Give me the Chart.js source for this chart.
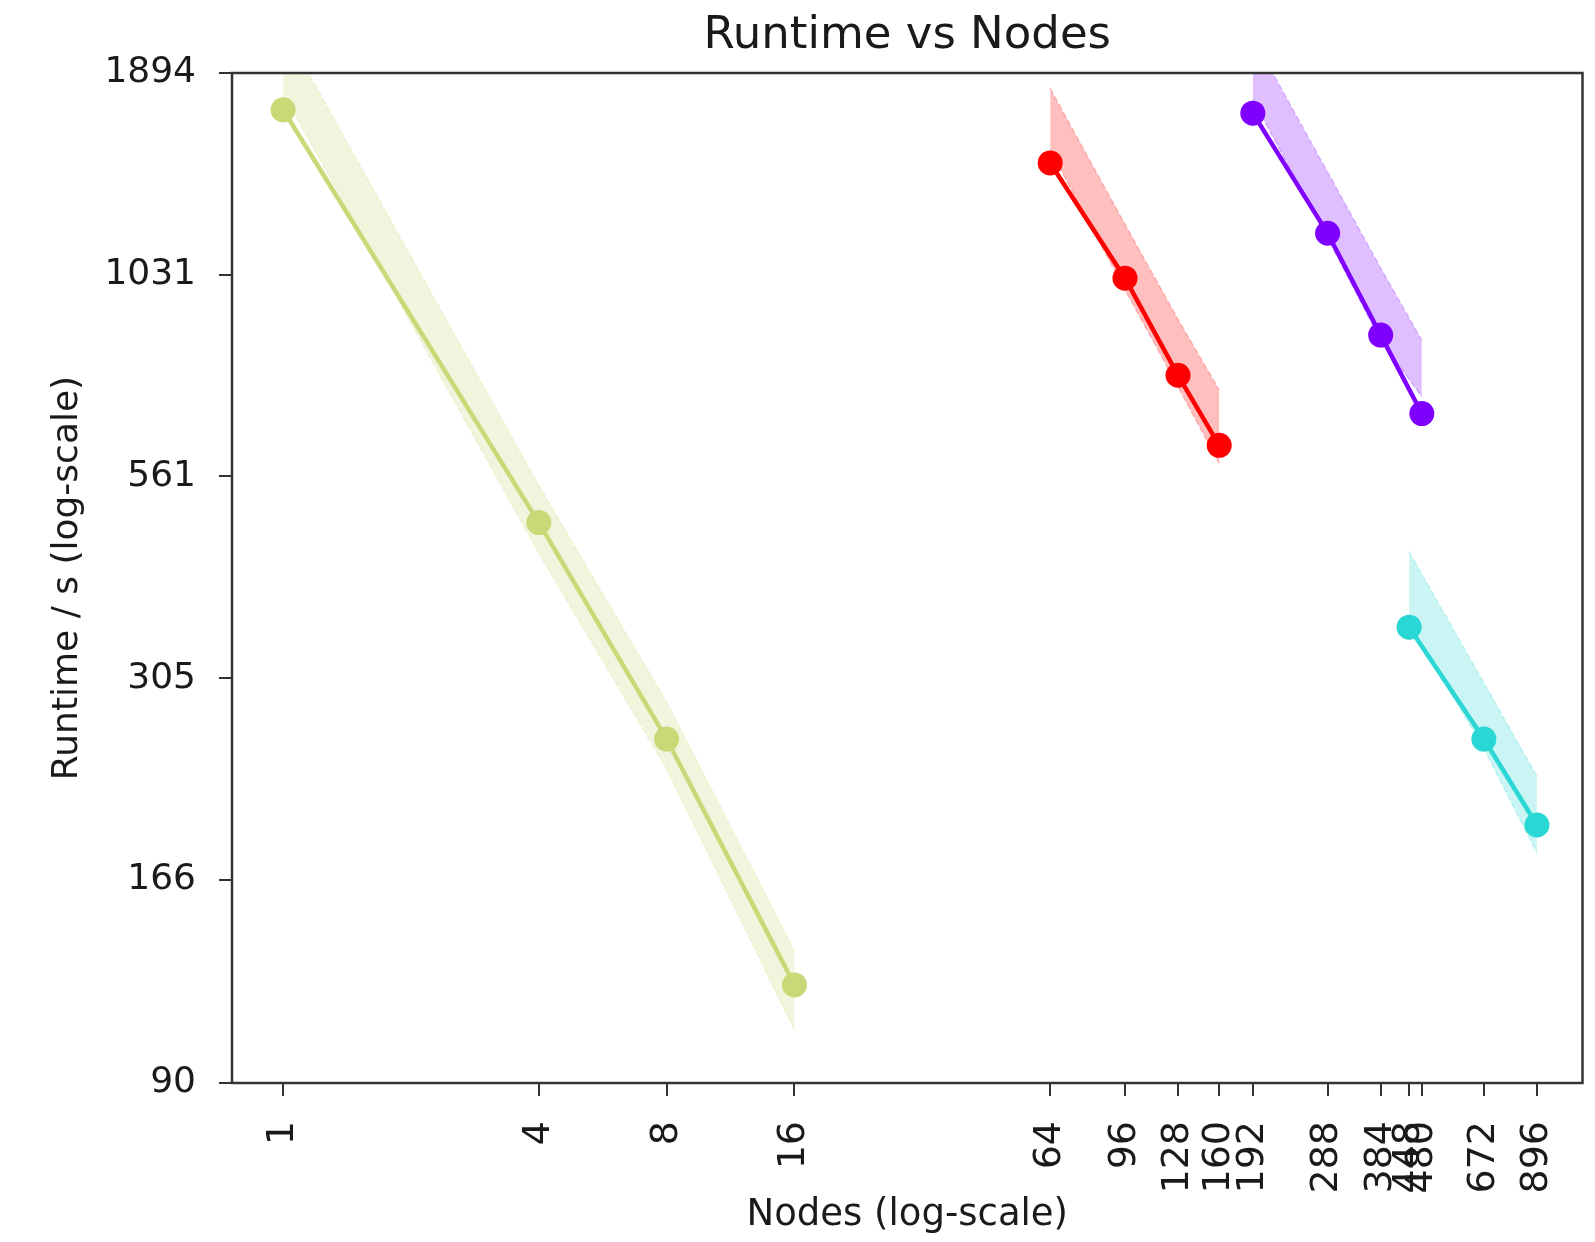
<!DOCTYPE html>
<html>
<head>
<meta charset="utf-8">
<script src="https://cdn.jsdelivr.net/npm/chart.js@4.4.0/dist/chart.umd.min.js"></script>
<style>
  html, body { margin: 0; padding: 0; background: #fff; }
  canvas { display: block; }
</style>
</head>
<body>
<canvas id="runtimeChart" width="1595" height="1242"></canvas>
<script>
// tick values shown on the axes
const xTicks = [1, 4, 8, 16, 64, 96, 128, 160, 192, 288, 384, 448, 480, 672, 896];
const yTicks = [90, 166, 305, 561, 1031, 1894];

// series 1 (olive)
const nodesA = [1, 4, 8, 16];
const runtimeA = [1695, 488, 254, 121];
const lowA = [1780, 445, 232, 105.5];
const highA = [2170, 546, 284, 134];

// series 2 (red)
const nodesB = [64, 96, 128, 160];
const runtimeB = [1444, 1020, 761, 616];
const lowB = [1500, 985, 735, 583];
const highB = [1808, 1200, 901, 728];

// series 3 (purple)
const nodesC = [192, 288, 384, 480];
const runtimeC = [1678, 1168, 859, 678];
const lowC = [1748, 1150, 845, 713];
const highC = [2110, 1405, 1052, 846];

// series 4 (cyan)
const nodesD = [448, 672, 896];
const runtimeD = [356, 254, 196];
const lowD = [360, 247, 180];
const highD = [447, 301, 227];

const pts = (xs, ys) => xs.map((x, i) => ({ x: x, y: ys[i] }));

function lineSet(xs, ys, color) {
  return {
    data: pts(xs, ys),
    borderColor: color,
    backgroundColor: color,
    borderWidth: 4.5,
    pointRadius: 12.5,
    pointBorderWidth: 0,
    fill: false,
    tension: 0,
    order: 1,
  };
}

function bandSet(xs, ys, rgb, upper) {
  return {
    data: pts(xs, ys),
    borderColor: 'rgba(' + rgb + ',0.22)',
    backgroundColor: 'rgba(' + rgb + ',0.25)',
    borderWidth: 1.5,
    borderDash: [6, 3],
    pointRadius: 0,
    fill: upper ? '+1' : false,
    tension: 0,
    order: 2,
  };
}

const frame = {
  id: 'frame',
  afterDatasetsDraw(chart) {
    const { ctx, chartArea: a } = chart;
    ctx.save();
    ctx.strokeStyle = '#333';
    ctx.lineWidth = 2.5;
    ctx.strokeRect(a.left, a.top, a.right - a.left, a.bottom - a.top);
    ctx.restore();
  },
};

const ctx = document.getElementById('runtimeChart').getContext('2d');
Chart.defaults.font.family = '"DejaVu Sans", sans-serif';
Chart.defaults.color = '#1a1a1a';

new Chart(ctx, {
  type: 'line',
  data: {
    datasets: [
      bandSet(nodesA, highA, '203,216,120', true),
      bandSet(nodesA, lowA, '203,216,120', false),
      bandSet(nodesB, highB, '255,0,0', true),
      bandSet(nodesB, lowB, '255,0,0', false),
      bandSet(nodesC, highC, '128,0,255', true),
      bandSet(nodesC, lowC, '128,0,255', false),
      bandSet(nodesD, highD, '42,215,213', true),
      bandSet(nodesD, lowD, '42,215,213', false),
      lineSet(nodesA, runtimeA, '#cbd878'),
      lineSet(nodesB, runtimeB, '#ff0000'),
      lineSet(nodesC, runtimeC, '#8000ff'),
      lineSet(nodesD, runtimeD, '#2ad7d5'),
    ],
  },
  options: {
    responsive: false,
    animation: false,
    layout: { padding: { left: 0, right: 12, top: 0, bottom: 0 } },
    scales: {
      x: {
        type: 'logarithmic',
        min: 0.758,
        max: 1147,
        afterBuildTicks: (s) => { s.ticks = xTicks.map(v => ({ value: v })); },
        afterFit: (s) => { s.height = 159; s.paddingLeft = 0; s.paddingRight = 0; },
        grid: { drawOnChartArea: false, drawTicks: true, tickLength: 13, color: '#333', lineWidth: 2 },
        border: { display: false },
        ticks: {
          autoSkip: false,
          minRotation: 90,
          maxRotation: 90,
          padding: 25,
          font: { size: 38 },
          callback: (v) => String(v),
        },
        title: { display: true, text: 'Nodes (log-scale)', font: { size: 37 }, padding: { top: 0, bottom: 4 } },
      },
      y: {
        type: 'logarithmic',
        min: 90,
        max: 1894,
        afterBuildTicks: (s) => { s.ticks = yTicks.map(v => ({ value: v })); },
        afterFit: (s) => { s.width = 232; s.paddingTop = 0; s.paddingBottom = 0; },
        grid: { drawOnChartArea: false, drawTicks: true, tickLength: 13, color: '#333', lineWidth: 2 },
        border: { display: false },
        ticks: {
          padding: 23,
          font: { size: 36 },
          callback: (v) => String(v),
        },
        title: { display: true, text: 'Runtime / s (log-scale)', font: { size: 36 }, padding: { top: 46, bottom: 0 } },
      },
    },
    plugins: {
      legend: { display: false },
      tooltip: { enabled: false },
      title: {
        display: true,
        fullSize: false,
        text: 'Runtime vs Nodes',
        font: { size: 45, weight: 'normal' },
        color: '#1a1a1a',
        padding: { top: 9, bottom: 10 },
      },
    },
  },
  plugins: [frame],
});
</script>
</body>
</html>
